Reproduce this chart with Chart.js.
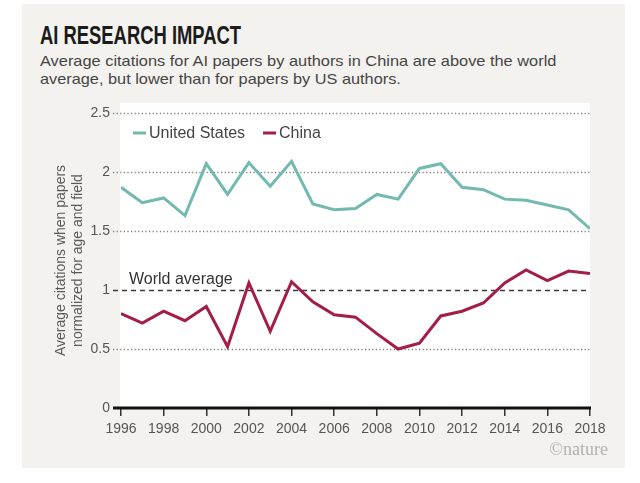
<!DOCTYPE html>
<html>
<head>
<meta charset="utf-8">
<script src="https://cdn.jsdelivr.net/npm/chart.js@4/dist/chart.umd.min.js"></script>
<style>
  body { margin: 0; background: #ffffff; }
  #wrap { position: relative; width: 640px; height: 483px; overflow: hidden; }
  #card { position: absolute; left: 22px; top: 4px; width: 603px; height: 464px; background: #f4f2ee; }
  .fit { position: absolute; left: 40px; white-space: nowrap; transform-origin: 0 0; line-height: 1; }
  #title { top: 20px; font: bold 26px "Liberation Sans Narrow", "Liberation Sans", sans-serif; color: #1b1b1b; }
  .sub { font: 15px "Liberation Sans", Arial, sans-serif; color: #454545; }
  #credit { position: absolute; right: 32px; top: 439px; font: 18px "Liberation Serif", serif; color: #b4b1ad; }
  canvas { position: absolute; left: 0; top: 0; }
</style>
</head>
<body>
<div id="wrap">
  <div id="card"></div>
  <div id="title" class="fit" data-w="201">AI RESEARCH IMPACT</div>
  <div class="sub fit" data-w="516" style="top:52px">Average citations for AI papers by authors in China are above the world</div>
  <div class="sub fit" data-w="361" style="top:70px">average, but lower than for papers by US authors.</div>
  <canvas id="chart" width="640" height="483"></canvas>
  <div id="credit">©nature</div>
</div>

<script>
// data
const years = [1996, 1997, 1998, 1999, 2000, 2001, 2002, 2003, 2004, 2005, 2006, 2007,
               2008, 2009, 2010, 2011, 2012, 2013, 2014, 2015, 2016, 2017, 2018];

const usValues = [1.87, 1.74, 1.78, 1.63, 2.07, 1.81, 2.08, 1.88, 2.09, 1.73, 1.68, 1.69,
                  1.81, 1.77, 2.03, 2.07, 1.87, 1.85, 1.77, 1.76, 1.72, 1.68, 1.52];

const chinaValues = [0.80, 0.72, 0.82, 0.74, 0.86, 0.52, 1.06, 0.65, 1.07, 0.90, 0.79, 0.77,
                     0.63, 0.50, 0.55, 0.78, 0.82, 0.89, 1.06, 1.17, 1.08, 1.16, 1.14];

const seriesNames = ["United States", "China"];
const seriesColors = ["#72b9b0", "#a31d45"];

const yTicks = [0, 0.5, 1, 1.5, 2, 2.5];
const worldAverage = 1;
const worldLabel = "World average";
const yTitle = ["Average citations when papers", "normalized for age and field"];

const FONT = "'Liberation Sans', Arial, sans-serif";


function fitText() {
    document.querySelectorAll(".fit").forEach(el => {
        const target = +el.dataset.w;
        el.style.transform = "scaleX(" + (target / el.offsetWidth) + ")";
    });
}


// white plot panel, grid lines, legend and the world average label
const panel = {
    id: "panel",
    beforeDraw(chart) {
        const { ctx, chartArea: a } = chart;
        ctx.save();
        ctx.fillStyle = "#ffffff";
        ctx.fillRect(a.left - 1, a.top - 10, a.right - a.left + 1, a.bottom - a.top + 10);
        ctx.restore();
    },
    beforeDatasetsDraw(chart) {
        const { ctx, chartArea: a, scales } = chart;
        const y = scales.y;
        ctx.save();
        yTicks.forEach(v => {
            if (v === 0) return;
            const py = Math.round(y.getPixelForValue(v)) + 0.5;
            ctx.beginPath();
            if (v === worldAverage) {
                ctx.setLineDash([5, 4]);
                ctx.strokeStyle = "#3a3a3a";
                ctx.lineWidth = 1.5;
            } else {
                ctx.setLineDash([1.2, 2.4]);
                ctx.strokeStyle = "#7e7e7e";
                ctx.lineWidth = 1.4;
            }
            ctx.moveTo(a.left - 8, py);
            ctx.lineTo(a.right, py);
            ctx.stroke();
        });
        ctx.setLineDash([]);
        ctx.fillStyle = "#333333";
        ctx.font = "16px " + FONT;
        ctx.textBaseline = "alphabetic";
        ctx.fillText(worldLabel, a.left + 8, y.getPixelForValue(worldAverage) - 6);

        // legend: short line marker then name
        ctx.font = "16px " + FONT;
        ctx.textBaseline = "middle";
        let lx = a.left + 12;
        const ly = a.top + 20;
        chart.data.datasets.forEach(ds => {
            ctx.fillStyle = ds.borderColor;
            ctx.fillRect(lx, ly - 1.5, 13, 3);
            ctx.fillStyle = "#444444";
            ctx.fillText(ds.label, lx + 16, ly + 1);
            lx += 16 + ctx.measureText(ds.label).width + 18;
        });
        ctx.restore();
    },
    afterDraw(chart) {
        const { ctx, chartArea: a, scales } = chart;
        const py = scales.y.getPixelForValue(0);
        ctx.save();
        ctx.strokeStyle = "#111111";
        ctx.lineWidth = 3;
        ctx.beginPath();
        ctx.moveTo(a.left - 8, py);
        ctx.lineTo(a.right + 1, py);
        ctx.stroke();
        ctx.restore();
    }
};


function buildChart() {

    const datasets = [usValues, chinaValues].map((vals, i) => ({
        label: seriesNames[i],
        data: years.map((yr, k) => ({ x: yr, y: vals[k] })),
        borderColor: seriesColors[i],
        backgroundColor: seriesColors[i],
        borderWidth: 3,
        pointRadius: 0,
        tension: 0
    }));

    new Chart(document.getElementById("chart"), {
        type: "line",
        data: { datasets: datasets },
        plugins: [panel],
        options: {
            responsive: false,
            animation: false,
            devicePixelRatio: 1,
            layout: { padding: { left: 49, right: 50, top: 113, bottom: 45 } },
            plugins: {
                tooltip: { enabled: false },
                legend: { display: false }
            },
            scales: {
                x: {
                    type: "linear",
                    min: years[0],
                    max: years[years.length - 1],
                    afterFit: s => { s.height = 30; },
                    border: { display: false },
                    grid: {
                        drawOnChartArea: false,
                        drawTicks: true,
                        tickLength: 8,
                        color: "#333333",
                        lineWidth: 1.5
                    },
                    ticks: {
                        stepSize: 2,
                        padding: 5,
                        color: "#555555",
                        font: { family: FONT, size: 14 },
                        callback: v => String(v)
                    }
                },
                y: {
                    min: 0,
                    max: 2.5,
                    afterFit: s => { s.width = 72; },
                    border: { display: false },
                    grid: {
                        drawOnChartArea: false,
                        drawTicks: true,
                        tickLength: 8,
                        color: "rgba(0,0,0,0)"
                    },
                    ticks: {
                        stepSize: 0.5,
                        padding: 3,
                        color: "#555555",
                        font: { family: FONT, size: 14 },
                        callback: v => String(v)
                    },
                    title: {
                        display: true,
                        text: yTitle,
                        color: "#5a5a5a",
                        padding: { top: 4, bottom: 4 },
                        font: { family: FONT, size: 14, lineHeight: 1.2 }
                    }
                }
            }
        }
    });
}

fitText();
buildChart();
</script>
</body>
</html>
